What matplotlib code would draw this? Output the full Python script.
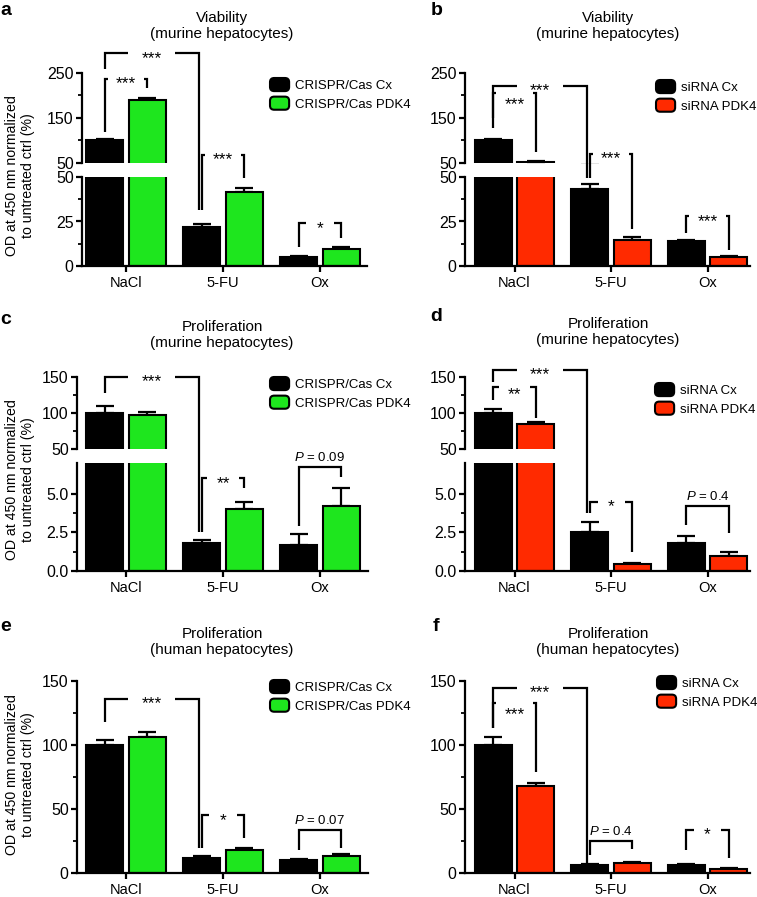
import numpy as np
import matplotlib
matplotlib.use('Agg')
import matplotlib.pyplot as plt
from matplotlib.lines import Line2D
from matplotlib.patches import FancyBboxPatch
from matplotlib.legend_handler import HandlerPatch
from matplotlib.ticker import FormatStrFormatter

plt.rcParams['font.family'] = ['Liberation Sans', 'DejaVu Sans']
plt.rcParams['mathtext.fontset'] = 'custom'
plt.rcParams['mathtext.it'] = 'Liberation Sans:italic'
plt.rcParams['mathtext.rm'] = 'Liberation Sans'

groups = ['NaCl', '5-FU', 'Ox']
crispr_labels = ['CRISPR/Cas Cx', 'CRISPR/Cas PDK4']
sirna_labels = ['siRNA Cx', 'siRNA PDK4']

# a: viability, murine, CRISPR
a_cx = [100, 22, 5]
a_cx_err = [3, 1.5, 0.8]
a_pdk4 = [190, 41.5, 9.5]
a_pdk4_err = [5, 2.5, 1.2]
# b: viability, murine, siRNA
b_cx = [100, 43.5, 14]
b_cx_err = [3, 2.5, 0.5]
b_pdk4 = [52, 14.8, 5]
b_pdk4_err = [3, 1.5, 0.6]
# c: proliferation, murine, CRISPR
c_cx = [100, 1.8, 1.7]
c_cx_err = [10, 0.22, 0.7]
c_pdk4 = [97, 4.05, 4.2]
c_pdk4_err = [5, 0.42, 1.2]
# d: proliferation, murine, siRNA
d_cx = [100, 2.5, 1.8]
d_cx_err = [5, 0.65, 0.45]
d_pdk4 = [85, 0.45, 1.0]
d_pdk4_err = [3, 0.1, 0.2]
# e: proliferation, human, CRISPR
e_cx = [100, 12, 10]
e_cx_err = [4, 1, 1]
e_pdk4 = [106.5, 18, 13.5]
e_pdk4_err = [3.5, 1.8, 1]
# f: proliferation, human, siRNA
f_cx = [100, 6.5, 6.3]
f_cx_err = [6.5, 0.6, 0.5]
f_pdk4 = [68, 7.7, 3.2]
f_pdk4_err = [2.5, 0.8, 0.6]

OFF = 0.22
BW = 0.38


def bx(g, s, shift=0.0):
    return g + (OFF if s else -OFF) + shift


# brackets: x1, x2, top, left bottom, right bottom, label, label drop (px)
a_br = [(bx(0, 0), bx(0, 1), 237, 119, 216, '***', 0),
        (bx(0, 0), bx(1, 0, -0.03), 294, 259, 31.5, '***', 0),
        (bx(1, 0), bx(1, 1), 68, 31.5, 49.5, '***', 0),
        (bx(2, 0), bx(2, 1), 24, 10.7, 15.7, '*', 0)]
b_br = [(bx(0, 0), bx(0, 1), 205, 128, 74, '***', 6),
        (bx(0, 0), bx(1, 0, -0.03), 221, 150, 49.5, '***', 0),
        (bx(1, 0), bx(1, 1), 70, 49.5, 20.8, '***', 0),
        (bx(2, 0), bx(2, 1), 28, 18.5, 9, '***', 0)]
c_br = [(bx(0, 0), bx(1, 0, -0.03), 150, 128, 2.5, '***', 0),
        (bx(1, 0), bx(1, 1), 6.0, 2.5, 5.4, '**', 0),
        (bx(2, 0), bx(2, 1), 6.75, 2.9, 6.1, '$P$ = 0.09', 0)]
d_br = [(bx(0, 0), bx(0, 1), 136, 118, 93, '**', 3),
        (bx(0, 0), bx(1, 0, -0.03), 160, 143, 3.75, '***', 0),
        (bx(1, 0), bx(1, 1), 4.5, 3.75, 1.25, '*', 0),
        (bx(2, 0), bx(2, 1), 4.2, 3.0, 2.45, '$P$ = 0.4', 0)]
e_br = [(bx(0, 0), bx(1, 0, -0.03), 136, 118, 19.5, '***', 0),
        (bx(1, 0), bx(1, 1), 45, 19.5, 27, '*', 0),
        (bx(2, 0), bx(2, 1), 33.5, 18, 19.5, '$P$ = 0.07', 0)]
f_br = [(bx(0, 0), bx(0, 1), 133, 113, 79, '***', 7),
        (bx(0, 0), bx(1, 0, -0.03), 144.5, 113, 6, '***', 0),
        (bx(1, 0), bx(1, 1), 25, 14, 18.5, '$P$ = 0.4', 0),
        (bx(2, 0), bx(2, 1), 33.5, 18, 11.5, '*', 0)]

GREEN = '#1ee61e'
RED = '#ff2a00'
W, H = 757, 897
fig = plt.figure(figsize=(W / 100, H / 100), dpi=100)


def rounded_swatch(legend, orig_handle, xdescent, ydescent, width, height, fontsize):
    return FancyBboxPatch((-xdescent, -ydescent), width, height,
                          boxstyle='round,pad=0,rounding_size=3')


def add_ax(l, t, r, b):
    return fig.add_axes([l / W, 1 - b / H, (r - l) / W, (b - t) / H])


def style(ax, ylim, ticks, fmt):
    ax.set_ylim(*ylim)
    ax.set_yticks(ticks)
    minor = [(ticks[i] + ticks[i + 1]) / 2 for i in range(len(ticks) - 1)]
    ax.set_yticks(minor, minor=True)
    ax.yaxis.set_major_formatter(FormatStrFormatter(fmt))
    for s in ['top', 'right']:
        ax.spines[s].set_visible(False)
    ax.spines['left'].set_linewidth(1.6)
    ax.spines['bottom'].set_linewidth(1.6)
    ax.tick_params(axis='y', which='major', length=4, width=1.6, labelsize=11.5, pad=2)
    ax.tick_params(axis='y', which='minor', length=3, width=1.3)


def panel(left, right, rows, xlim, cx, cx_err, pdk, pdk_err, color, labels,
          lims, ticks, fmt, brackets, leg_xy):
    x = np.arange(len(groups))
    axes = []
    for (t, b), lim, tk in zip(rows, lims, ticks):
        ax = add_ax(left, t, right, b)
        ax.set_xlim(*xlim)
        style(ax, lim, tk, fmt)
        b1 = ax.bar(x - OFF, cx, BW, color='black', edgecolor='black', linewidth=1.5,
                    label=labels[0], zorder=2)
        b2 = ax.bar(x + OFF, pdk, BW, color=color, edgecolor='black', linewidth=1.5,
                    label=labels[1], zorder=2)
        ax.errorbar(x - OFF, cx, yerr=[np.zeros(3), cx_err], fmt='none', ecolor='black',
                    elinewidth=1.6, capsize=6.5, capthick=1.6, zorder=1)
        ax.errorbar(x + OFF, pdk, yerr=[np.zeros(3), pdk_err], fmt='none', ecolor='black',
                    elinewidth=1.6, capsize=6.5, capthick=1.6, zorder=1)
        axes.append(ax)
    low = axes[-1]
    low.set_xticks(x)
    low.set_xticklabels(groups)
    low.tick_params(axis='x', length=4, width=1.6, labelsize=10.5, pad=3)
    for ax in axes[:-1]:
        ax.spines['bottom'].set_visible(False)
        ax.set_xticks([])
    low_top = lims[-1][1]

    def pt(xv, yv):
        ax = low if (len(axes) == 1 or yv <= low_top) else axes[0]
        d = ax.transData.transform((xv, yv))
        return fig.transFigure.inverted().transform(d)

    def line(pts):
        xs = [p[0] for p in pts]
        ys = [p[1] for p in pts]
        fig.add_artist(Line2D(xs, ys, transform=fig.transFigure, color='black',
                              lw=1.6, solid_capstyle='butt', solid_joinstyle='miter'))

    for x1, x2, top, y1, y2, lab, drop in brackets:
        mid = (x1 + x2) / 2
        if lab.startswith('*'):
            gap = 0.24 if x2 - x1 > 0.6 else {'*': 0.14, '**': 0.16, '***': 0.19}[lab]
            line([pt(x1, y1), pt(x1, top), pt(mid - gap, top)])
            line([pt(mid + gap, top), pt(x2, top), pt(x2, y2)])
            p = pt(mid, top)
            fig.text(p[0], p[1] - (drop + 5) / H, lab, ha='center', va='center',
                     fontsize=12.5)
        else:
            line([pt(x1, y1), pt(x1, top), pt(x2, top), pt(x2, y2)])
            p = pt(mid, top)
            fig.text(p[0], p[1] + 3 / H, lab, ha='center', va='bottom', fontsize=9.5)

    fig.legend(handles=[b1.patches[0], b2.patches[0]], labels=labels, loc='upper left',
               bbox_to_anchor=(leg_xy[0] / W, 1 - leg_xy[1] / H),
               handler_map={b1.patches[0]: HandlerPatch(patch_func=rounded_swatch),
                            b2.patches[0]: HandlerPatch(patch_func=rounded_swatch)},
               frameon=False, fontsize=9.5, borderpad=0, borderaxespad=0,
               handlelength=1.45, handleheight=1.15, handletextpad=0.45, labelspacing=0.35)
    return axes


panel(82, 367, [(73, 163), (177, 266)], (-0.454, 2.485), a_cx, a_cx_err, a_pdk4, a_pdk4_err,
      GREEN, crispr_labels, [(50, 250), (0, 50)], [[50, 150, 250], [0, 25, 50]], '%g',
      a_br, (270, 78))
panel(465, 750, [(73, 163), (177, 266)], (-0.513, 2.44), b_cx, b_cx_err, b_pdk4, b_pdk4_err,
      RED, sirna_labels, [(50, 250), (0, 50)], [[50, 150, 250], [0, 25, 50]], '%g',
      b_br, (656, 80))
panel(77, 368, [(377, 449), (463, 571)], (-0.505, 2.495), c_cx, c_cx_err, c_pdk4, c_pdk4_err,
      GREEN, crispr_labels, [(50, 150), (0, 7)], [[50, 100, 150], [0, 2.5, 5.0]], '%.1f',
      c_br, (270, 377))
panel(465, 750, [(377, 449), (463, 571)], (-0.513, 2.44), d_cx, d_cx_err, d_pdk4, d_pdk4_err,
      RED, sirna_labels, [(50, 150), (0, 7)], [[50, 100, 150], [0, 2.5, 5.0]], '%.1f',
      d_br, (655, 383))
panel(77, 368, [(681, 873)], (-0.505, 2.495), e_cx, e_cx_err, e_pdk4, e_pdk4_err,
      GREEN, crispr_labels, [(0, 150)], [[0, 50, 100, 150]], '%g',
      e_br, (270, 680))
panel(465, 750, [(681, 873)], (-0.513, 2.44), f_cx, f_cx_err, f_pdk4, f_pdk4_err,
      RED, sirna_labels, [(0, 150)], [[0, 50, 100, 150]], '%g',
      f_br, (657, 676))

# upper segments of c and d keep integer labels
for ax in fig.axes:
    if ax.get_ylim() == (50, 150):
        ax.yaxis.set_major_formatter(FormatStrFormatter('%g'))

ylab = 'OD at 450 nm normalized\nto untreated ctrl (%)'
for yc in [176, 480, 775]:
    fig.text(20 / W, 1 - yc / H, ylab, rotation=90, ha='center', va='center',
             fontsize=10.2, linespacing=1.15)

titles = [('a', 'Viability\n(murine hepatocytes)', 0, 222, 11),
          ('b', 'Viability\n(murine hepatocytes)', 431, 608, 11),
          ('c', 'Proliferation\n(murine hepatocytes)', 0, 222, 320),
          ('d', 'Proliferation\n(murine hepatocytes)', 430, 608, 317),
          ('e', 'Proliferation\n(human hepatocytes)', 0, 222, 627),
          ('f', 'Proliferation\n(human hepatocytes)', 433, 608, 627)]
for letter, title, lx, tx, ty in titles:
    fig.text(lx / W, 1 - (ty - 9) / H, letter, fontweight='bold', fontsize=14,
             ha='left', va='top')
    fig.text(tx / W, 1 - ty / H, title, ha='center', va='top', fontsize=11,
             linespacing=1.15)

fig.savefig('out.png', dpi=100)
